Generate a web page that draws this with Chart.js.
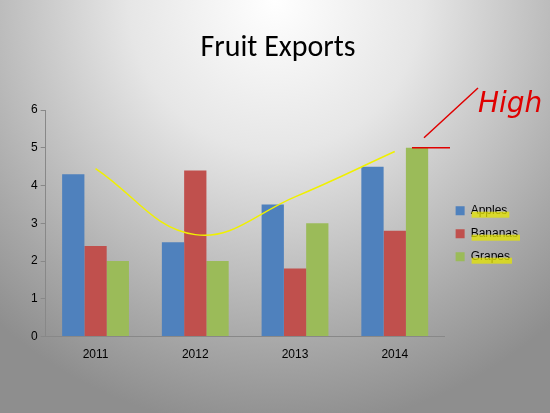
<!DOCTYPE html>
<html>
<head>
<meta charset="utf-8">
<script src="https://cdn.jsdelivr.net/npm/chart.js@4/dist/chart.umd.min.js"></script>
<style>
  html, body { margin: 0; padding: 0; }
  body {
    width: 550px; height: 413px; overflow: hidden;
    background: radial-gradient(ellipse 420px 430px at 275px 0px, #ffffff 0%, #e6e6e6 35%, #a8a8a8 80%, #8e8e8e 100%);
  }
  #wrap { width: 550px; height: 413px; }
</style>
</head>
<body>
<div id="wrap"><canvas id="chart"></canvas></div>
<script>
const years = ['2011', '2012', '2013', '2014'];
const apples = [4.3, 2.5, 3.5, 4.5];
const bananas = [2.4, 4.4, 1.8, 2.8];
const grapes = [2, 2, 3, 5];
// hand-drawn yellow ink stroke
const inkLine = [4.45, 2.7, 3.7, 4.9];

const inkPlugin = {
  id: 'ink',
  afterDraw(chart) {
    const ctx = chart.ctx;
    const legend = chart.legend;
    ctx.save();
    // yellow highlighter on legend labels
    ctx.fillStyle = 'rgba(230,230,0,0.75)';
    legend.legendHitBoxes.forEach((b) => {
      ctx.fillRect(b.left + 16, b.top + b.height / 2 + 1, b.width - 14, 6);
    });
    // red "High" scribble
    const y5 = chart.scales.y.getPixelForValue(5);
    ctx.strokeStyle = '#e00000';
    ctx.lineWidth = 1.5;
    ctx.beginPath();
    ctx.moveTo(412, y5);
    ctx.lineTo(450, y5);
    ctx.moveTo(424, y5 - 10);
    ctx.lineTo(478, 88);
    ctx.stroke();
    ctx.fillStyle = '#e00000';
    ctx.font = 'italic 28px "DejaVu Sans"';
    ctx.fillText('High', 478, 112);
    ctx.restore();
  }
};

new Chart(document.getElementById('chart'), {
  type: 'bar',
  data: {
    labels: years,
    datasets: [
      { label: 'Apples', data: apples, backgroundColor: '#4F81BD', order: 2 },
      { label: 'Bananas', data: bananas, backgroundColor: '#C0504D', order: 2 },
      { label: 'Grapes', data: grapes, backgroundColor: '#9BBB59', order: 2 },
      {
        type: 'line', label: 'ink', data: inkLine, borderColor: '#f0f000',
        borderWidth: 1.5, pointRadius: 0, tension: 0.4, fill: false, order: 0
      }
    ]
  },
  options: {
    responsive: true,
    maintainAspectRatio: false,
    animation: false,
    layout: { padding: { left: 28, right: 22, top: 0, bottom: 48 } },
    datasets: { bar: { categoryPercentage: 0.67, barPercentage: 1 } },
    plugins: {
      title: {
        display: true, text: 'Fruit Exports', color: '#000',
        font: { family: 'Calibri, Carlito, "Liberation Sans"', size: 30, weight: 'normal' },
        padding: { top: 30, bottom: 44 }
      },
      legend: {
        position: 'right',
        title: { display: true, text: ' ', padding: { top: 88, bottom: 0 } },
        labels: {
          filter: (item) => item.text !== 'ink',
          boxWidth: 9, boxHeight: 9, color: '#000',
          font: { family: '"Liberation Sans"', size: 12 }, padding: 11
        }
      },
      tooltip: { enabled: false }
    },
    scales: {
      x: {
        grid: { display: false },
        border: { color: '#888' },
        ticks: { color: '#000', font: { family: '"Liberation Sans"', size: 12 } }
      },
      y: {
        min: 0, max: 6,
        grid: { drawOnChartArea: false, tickLength: 5, color: '#888' },
        border: { color: '#888' },
        ticks: { stepSize: 1, color: '#000', font: { family: '"Liberation Sans"', size: 12 } }
      }
    }
  },
  plugins: [inkPlugin]
});
</script>
</body>
</html>
